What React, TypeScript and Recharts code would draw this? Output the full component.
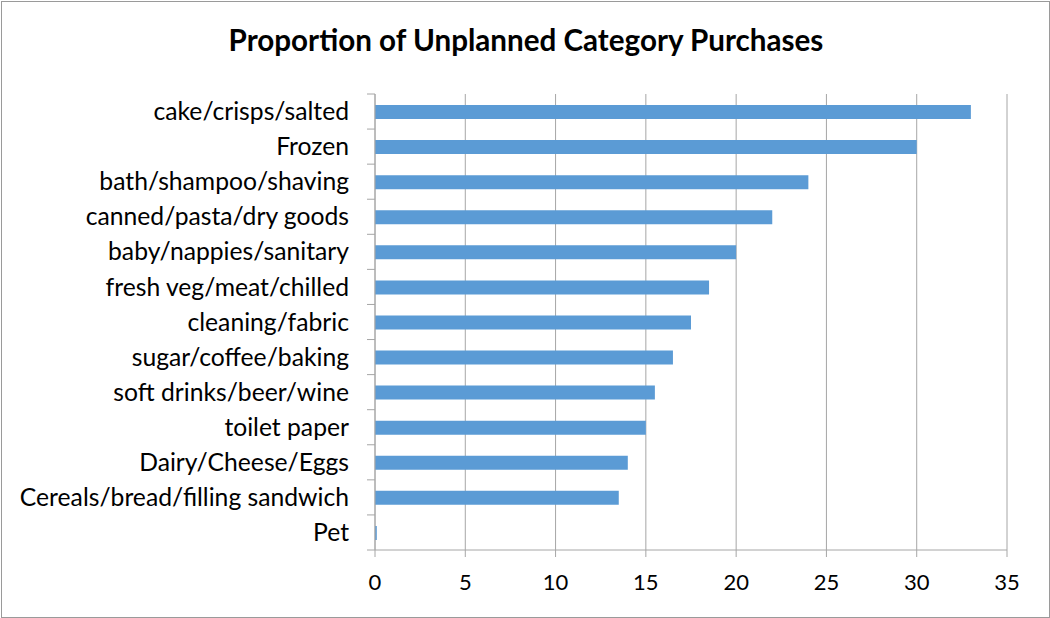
import { Bar, BarChart, CartesianGrid, XAxis, YAxis } from 'recharts';

const categories = [
  'cake/crisps/salted',
  'Frozen',
  'bath/shampoo/shaving',
  'canned/pasta/dry goods',
  'baby/nappies/sanitary',
  'fresh veg/meat/chilled',
  'cleaning/fabric',
  'sugar/coffee/baking',
  'soft drinks/beer/wine',
  'toilet paper',
  'Dairy/Cheese/Eggs',
  'Cereals/bread/filling sandwich',
  'Pet',
];
const proportions = [33, 30, 24, 22, 20, 18.5, 17.5, 16.5, 15.5, 15, 14, 13.5, 0.1];
const valueTicks = [0, 5, 10, 15, 20, 25, 30, 35];

const data = categories.map((name, i) => ({ name, value: proportions[i] }));

const W = 1050;
const H = 618;
const MARGIN = { top: 94, right: 43, bottom: 0, left: 0 };
const X_AXIS_H = 68;
const PLOT_H = H - MARGIN.top - MARGIN.bottom - X_AXIS_H;
const BAND = PLOT_H / categories.length;
const FONT = 'Lato, "Open Sans", sans-serif';
const AXIS = '#a6a6a6';
const LABEL_GAP = 26;

function CategoryTick(props: any) {
  const { x, y, payload, index } = props;
  const ax = x + LABEL_GAP;
  return (
    <g>
      {index === 0 ? (
        <line x1={ax - 8} x2={ax} y1={y - BAND / 2} y2={y - BAND / 2} stroke={AXIS} />
      ) : null}
      <line x1={ax - 8} x2={ax} y1={y + BAND / 2} y2={y + BAND / 2} stroke={AXIS} />
      <text x={x} y={y} dy="0.35em" textAnchor="end" fill="#000" fontSize={24.7} fontFamily={FONT}>
        {payload.value}
      </text>
    </g>
  );
}

export default function App() {
  return (
    <div style={{ position: 'absolute', left: 0, top: 0, width: W, height: H, background: '#fff' }}>
      <div
        style={{
          position: 'absolute',
          left: 1,
          top: 1,
          width: W - 3,
          height: H - 3,
          border: '1px solid #9a9a9a',
        }}
      />
      <div
        style={{
          position: 'absolute',
          left: 0,
          width: W + 2,
          top: 22,
          textAlign: 'center',
          fontFamily: FONT,
          fontWeight: 700,
          fontSize: 29.6,
          color: '#000',
        }}
      >
        Proportion of Unplanned Category Purchases
      </div>
      <BarChart
        width={W}
        height={H}
        data={data}
        layout="vertical"
        margin={MARGIN}
        barCategoryGap="30%"
        style={{ position: 'absolute', left: 0, top: 0 }}
      >
        <CartesianGrid horizontal={false} stroke={AXIS} />
        <XAxis
          type="number"
          domain={[0, 35]}
          ticks={valueTicks}
          height={X_AXIS_H}
          axisLine={{ stroke: AXIS }}
          tickLine={{ stroke: AXIS }}
          tickSize={7}
          tickMargin={17}
          tick={{ fill: '#000', fontSize: 22, fontFamily: FONT }}
          interval={0}
        />
        <YAxis
          type="category"
          dataKey="name"
          width={375}
          axisLine={{ stroke: AXIS }}
          tickLine={false}
          tickSize={0}
          tickMargin={LABEL_GAP}
          tick={<CategoryTick />}
          interval={0}
        />
        <Bar dataKey="value" fill="#5b9bd5" barSize={14} isAnimationActive={false} />
      </BarChart>
    </div>
  );
}
